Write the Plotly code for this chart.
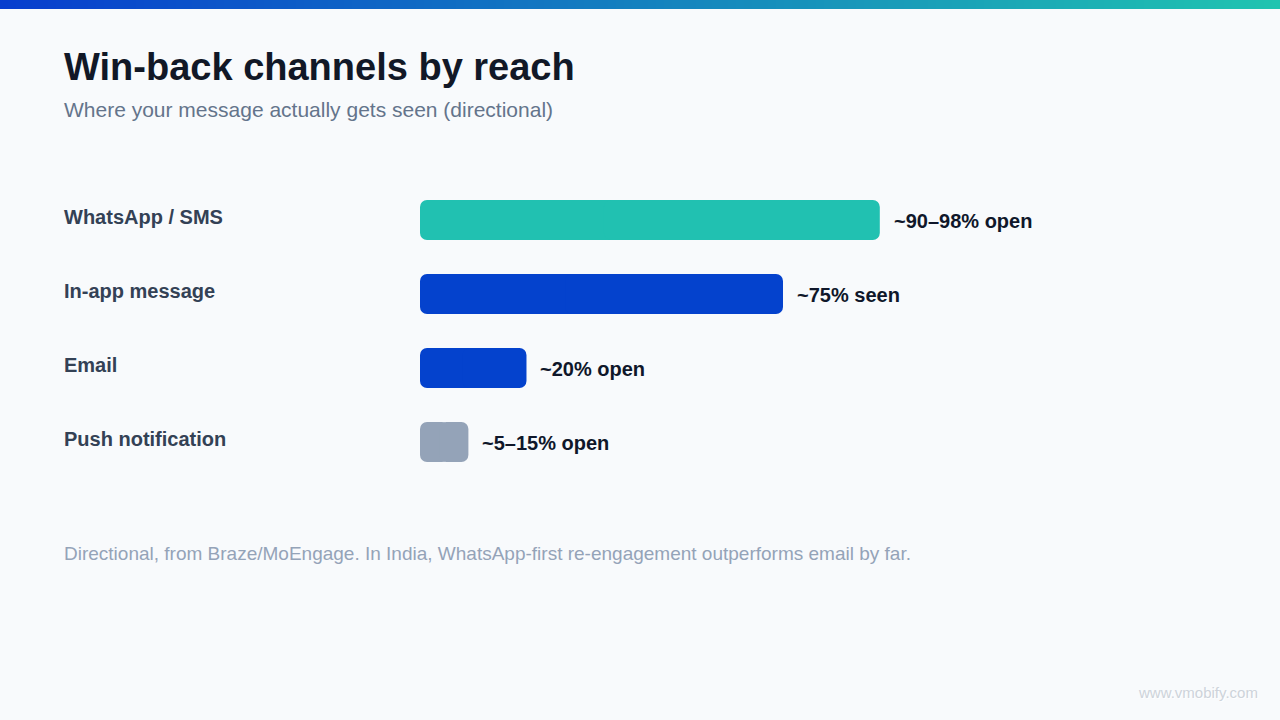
import plotly.graph_objects as go

# ---- data ----
channels = ["WhatsApp / SMS", "In-app message", "Email", "Push notification"]
reach = [95, 75, 22, 10]
value_labels = ["~90–98% open", "~75% seen", "~20% open", "~5–15% open"]
bar_colors = ["#21c1b1", "#0442cd", "#0442cd", "#94a3b8"]

title = "Win-back channels by reach"
subtitle = "Where your message actually gets seen (directional)"
footnote = "Directional, from Braze/MoEngage. In India, WhatsApp-first re-engagement outperforms email by far."
watermark = "www.vmobify.com"

W, H = 1280, 720
FONT = "Liberation Sans, Arial, Helvetica, sans-serif"

ypos = list(range(len(channels)))
BW = 40 / 74

fig = go.Figure()
# each bar drawn as two overlapping halves so both ends get rounded corners
fig.add_trace(go.Bar(
    x=[-v * 0.6 for v in reach], base=[v * 0.6 for v in reach], y=ypos,
    orientation="h", marker=dict(color=bar_colors, line=dict(width=0)),
    width=BW, hoverinfo="skip",
))
fig.add_trace(go.Bar(
    x=[v * 0.6 for v in reach], base=[v * 0.4 for v in reach], y=ypos,
    orientation="h", marker=dict(color=bar_colors, line=dict(width=0)),
    width=BW, hoverinfo="skip",
))

# x: 0 at 420px, 100 at 904px
x0 = 420 / W
x1 = (420 + 484) / W
# y rows: centres at 220, 294, 368, 442 px
ytop, ybot = 183, 479
LX = 62 / W

annotations = []
for i, (c, v, lab) in enumerate(zip(channels, reach, value_labels)):
    annotations.append(dict(
        x=LX, xref="paper", y=i, yref="y", text=c, showarrow=False,
        xanchor="left", yanchor="middle", yshift=3,
        font=dict(family=FONT, size=20, color="#334155", weight="bold"),
    ))
    annotations.append(dict(
        x=v, xref="x", y=i, yref="y", text=lab, showarrow=False,
        xanchor="left", yanchor="middle", xshift=12, yshift=-1,
        font=dict(family=FONT, size=20, color="#0f172a", weight="bold"),
    ))

annotations += [
    dict(x=LX, y=1 - 67 / H, xref="paper", yref="paper", text=title,
         showarrow=False, xanchor="left", yanchor="middle",
         font=dict(family=FONT, size=38, color="#111827", weight="bold")),
    dict(x=LX, y=1 - 109 / H, xref="paper", yref="paper", text=subtitle,
         showarrow=False, xanchor="left", yanchor="middle",
         font=dict(family=FONT, size=21, color="#64748b")),
    dict(x=LX, y=1 - 553 / H, xref="paper", yref="paper", text=footnote,
         showarrow=False, xanchor="left", yanchor="middle",
         font=dict(family=FONT, size=19, color="#94a3b8")),
    dict(x=1260 / W, y=1 - 692 / H, xref="paper", yref="paper", text=watermark,
         showarrow=False, xanchor="right", yanchor="middle",
         font=dict(family=FONT, size=15, color="#cdd3da",
                   shadow="1px 1px 1px #ffffff")),
]

# top gradient strip (decorative)
shapes = []
n = 160
c_left = (8, 62, 206)
c_right = (32, 196, 176)
for k in range(n):
    t = k / (n - 1)
    col = tuple(round(c_left[j] + (c_right[j] - c_left[j]) * t) for j in range(3))
    shapes.append(dict(
        type="rect", xref="paper", yref="paper",
        x0=k / n, x1=(k + 1) / n + 0.001, y0=1 - 9 / H, y1=1,
        fillcolor="rgb(%d,%d,%d)" % col, line=dict(width=0), layer="above",
    ))

fig.update_layout(
    width=W, height=H,
    margin=dict(l=0, r=0, t=0, b=0),
    paper_bgcolor="#f8fafc", plot_bgcolor="#f8fafc",
    showlegend=False,
    barmode="overlay",
    barcornerradius=7,
    xaxis=dict(domain=[x0, x1], range=[0, 100], visible=False, fixedrange=True),
    yaxis=dict(domain=[1 - ybot / H, 1 - ytop / H], range=[3.5, -0.5],
               visible=False, fixedrange=True),
    annotations=annotations,
    shapes=shapes,
)

fig.write_html("out.html", config={"displayModeBar": False})
